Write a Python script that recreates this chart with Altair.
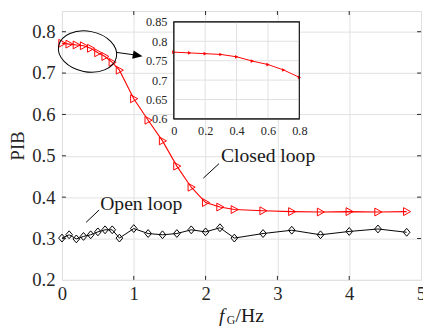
import altair as alt
import pandas as pd

# ---------------- data ----------------
freq = [0, 0.1, 0.2, 0.3, 0.4, 0.5, 0.6, 0.7, 0.8, 1.0, 1.2, 1.4, 1.6, 1.8,
        2.0, 2.2, 2.4, 2.8, 3.2, 3.6, 4.0, 4.4, 4.8]
closed_loop = [0.772, 0.770, 0.768, 0.766, 0.760, 0.749, 0.740, 0.726, 0.707,
               0.638, 0.586, 0.536, 0.475, 0.424, 0.387, 0.376, 0.370, 0.367,
               0.365, 0.364, 0.365, 0.364, 0.365]
open_loop = [0.301, 0.309, 0.299, 0.305, 0.309, 0.316, 0.321, 0.321, 0.301,
             0.324, 0.312, 0.309, 0.312, 0.321, 0.316, 0.326, 0.301, 0.312,
             0.320, 0.309, 0.317, 0.323, 0.315]
inset_freq = [0, 0.1, 0.2, 0.3, 0.4, 0.5, 0.6, 0.7, 0.8]
inset_closed = [0.772, 0.770, 0.768, 0.766, 0.760, 0.749, 0.740, 0.726, 0.707]

x_ticks = [0, 1, 2, 3, 4, 5]
y_ticks = [0.2, 0.3, 0.4, 0.5, 0.6, 0.7, 0.8]
inset_x_ticks = [0, 0.2, 0.4, 0.6, 0.8]
inset_y_ticks = [0.6, 0.65, 0.7, 0.75, 0.8, 0.85]
series_labels = ["Closed loop", "Open loop"]

# ---------------- style ----------------
FONT = "Liberation Serif"
RED = "#ff0000"
INK = "#262626"
GRID = "#e0e0e0"
X_DOM = [0, 5]
Y_DOM = [0.2, 0.85]
IX_DOM = [0, 0.8]
IY_DOM = [0.6, 0.85]

TRI = "M-0.8,-1L1,0L-0.8,1Z"
DIAMOND = "M0,-1L0.85,0L0,1L-0.85,0Z"
ELLIPSE = "M-1,0A1,0.69,0,1,1,1,0A1,0.69,0,1,1,-1,0Z"
HEAD = "M-1,-0.86L1,0L-1,0.86Z"

xs = alt.Scale(domain=X_DOM, nice=False, zero=False)
ys = alt.Scale(domain=Y_DOM, nice=False, zero=False)
ax_x = alt.Axis(orient="bottom", values=x_ticks, format="~g", title=None,
                grid=True, gridColor=GRID, gridWidth=1, ticks=False, domain=False,
                labelFont=FONT, labelFontSize=19, labelColor=INK, labelPadding=5,
                labelFlush=False, labelOverlap=False)
ax_y = alt.Axis(orient="left", values=y_ticks, format=".1f", title="PIB",
                titleFont=FONT, titleFontSize=19, titleFontWeight="normal",
                titleColor=INK, titlePadding=4,
                grid=True, gridColor=GRID, gridWidth=1, ticks=False, domain=False,
                labelFont=FONT, labelFontSize=19, labelColor=INK, labelPadding=7,
                labelOverlap=False)


def MX(f="x"):
    return alt.X(f"{f}:Q", scale=xs, axis=ax_x)


def MY(f="y"):
    return alt.Y(f"{f}:Q", scale=ys, axis=ax_y)


closed_df = pd.DataFrame({"x": freq, "y": closed_loop})
open_df = pd.DataFrame({"x": freq, "y": open_loop})

closed_line = alt.Chart(closed_df).mark_line(color=RED, strokeWidth=1.1).encode(x=MX(), y=MY())
closed_pts = alt.Chart(closed_df).mark_point(
    shape=TRI, size=64, filled=False, color=RED, strokeWidth=1, opacity=1
).encode(x=MX(), y=MY())
open_line = alt.Chart(open_df).mark_line(color="black", strokeWidth=1).encode(x=MX(), y=MY())
open_pts = alt.Chart(open_df).mark_point(
    shape=DIAMOND, size=64, filled=False, color="black", strokeWidth=1, opacity=1
).encode(x=MX(), y=MY())

# inward ticks on all four sides of the box
inner_x = x_ticks[1:-1]
inner_y = y_ticks[1:]
bottom_t = alt.Chart(pd.DataFrame({"x": inner_x, "y": [Y_DOM[0]] * len(inner_x), "y2": [Y_DOM[0]] * len(inner_x)})
                     ).mark_rule(color=INK, strokeWidth=1, y2Offset=-4).encode(x=MX(), y=MY(), y2="y2:Q")
top_t = alt.Chart(pd.DataFrame({"x": inner_x, "y": [Y_DOM[1]] * len(inner_x), "y2": [Y_DOM[1]] * len(inner_x)})
                  ).mark_rule(color=INK, strokeWidth=1, y2Offset=4).encode(x=MX(), y=MY(), y2="y2:Q")
left_t = alt.Chart(pd.DataFrame({"y": inner_y, "x": [X_DOM[0]] * len(inner_y), "x2": [X_DOM[0]] * len(inner_y)})
                   ).mark_rule(color=INK, strokeWidth=1, x2Offset=4).encode(x=MX(), x2="x2:Q", y=MY())
right_t = alt.Chart(pd.DataFrame({"y": inner_y, "x": [X_DOM[1]] * len(inner_y), "x2": [X_DOM[1]] * len(inner_y)})
                    ).mark_rule(color=INK, strokeWidth=1, x2Offset=-4).encode(x=MX(), x2="x2:Q", y=MY())

# annotations
ellipse = alt.Chart(pd.DataFrame({"x": [0.356], "y": [0.752]})).mark_point(
    shape=ELLIPSE, size=3600, filled=False, color="black", strokeWidth=1, opacity=1, angle=11
).encode(x=MX(), y=MY())
arrow_line = alt.Chart(pd.DataFrame({"x": [0.759], "y": [0.750], "x2": [1.05], "y2": [0.743]})
                       ).mark_rule(color="black", strokeWidth=1).encode(x=MX(), y=MY(), x2="x2:Q", y2="y2:Q")
arrow_head = alt.Chart(pd.DataFrame({"x": [1.055], "y": [0.7426]})).mark_point(
    shape=HEAD, size=100, filled=True, color="black", opacity=1, angle=10
).encode(x=MX(), y=MY())

leaders = alt.Chart(pd.DataFrame({
    "x": [1.969, 0.336], "y": [0.446, 0.339], "x2": [2.187, 0.518], "y2": [0.481, 0.369]
})).mark_rule(color="black", strokeWidth=1).encode(x=MX(), y=MY(), x2="x2:Q", y2="y2:Q")

labels = alt.Chart(pd.DataFrame({
    "x": [2.214, 0.532], "y": [0.486, 0.370], "label": series_labels
})).mark_text(font=FONT, fontSize=20, color="#1a1a1a", align="left", baseline="alphabetic").encode(
    x=MX(), y=MY(), text="label:N")

# x-axis title  f_G/Hz
title_pos = pd.DataFrame({"x": [2.5], "y": [Y_DOM[0]]})
t_f = alt.Chart(title_pos).mark_text(text="f", font=FONT, fontSize=20, fontStyle="italic",
                                     color="#1a1a1a", align="left", baseline="alphabetic",
                                     dx=-23, dy=43).encode(x=MX(), y=MY())
t_g = alt.Chart(title_pos).mark_text(text="G", font=FONT, fontSize=12, color="#1a1a1a",
                                     align="left", baseline="alphabetic",
                                     dx=-15, dy=45).encode(x=MX(), y=MY())
t_hz = alt.Chart(title_pos).mark_text(text="/Hz", font=FONT, fontSize=20, color="#1a1a1a",
                                      align="left", baseline="alphabetic",
                                      dx=-6, dy=43).encode(x=MX(), y=MY())

main = alt.layer(closed_line, closed_pts, open_line, open_pts,
                 bottom_t, top_t, left_t, right_t,
                 ellipse, arrow_line, arrow_head, leaders, labels,
                 t_f, t_g, t_hz)

# ---------------- inset ----------------
ixs = alt.Scale(domain=IX_DOM, range=[114, 242], nice=False, zero=False)
iys = alt.Scale(domain=IY_DOM, range=[110, 11], nice=False, zero=False)
iax_x = alt.Axis(orient="bottom", offset=-164, values=inset_x_ticks, format="~g", title=None,
                 grid=False, ticks=False, domain=False, labelFont=FONT, labelFontSize=12.5,
                 labelColor=INK, labelPadding=6, labelFlush=False, labelOverlap=False)
iax_y = alt.Axis(orient="left", offset=-114, values=inset_y_ticks, format="~g", title=None,
                 grid=False, ticks=False, domain=False, labelFont=FONT, labelFontSize=12.5,
                 labelColor=INK, labelPadding=7, labelOverlap=False)


def IX(f="ix"):
    return alt.X(f"{f}:Q", scale=ixs, axis=iax_x)


def IY(f="iy"):
    return alt.Y(f"{f}:Q", scale=iys, axis=iax_y)


inset_box = alt.Chart(pd.DataFrame({"ix": [IX_DOM[0]], "ix2": [IX_DOM[1]], "iy": [IY_DOM[0]], "iy2": [IY_DOM[1]]})
                      ).mark_rect(fill="white", stroke=INK, strokeWidth=1).encode(
    x=IX(), x2="ix2:Q", y=IY(), y2="iy2:Q")
gx = inset_x_ticks[1:-1]
gy = inset_y_ticks[1:-1]
inset_vgrid = alt.Chart(pd.DataFrame({"ix": gx, "iy": [IY_DOM[0]] * len(gx), "iy2": [IY_DOM[1]] * len(gx)})
                        ).mark_rule(color=GRID, strokeWidth=1).encode(x=IX(), y=IY(), y2="iy2:Q")
inset_hgrid = alt.Chart(pd.DataFrame({"iy": gy, "ix": [IX_DOM[0]] * len(gy), "ix2": [IX_DOM[1]] * len(gy)})
                        ).mark_rule(color=GRID, strokeWidth=1).encode(x=IX(), x2="ix2:Q", y=IY())
inset_frame = alt.Chart(pd.DataFrame({"ix": [IX_DOM[0]], "ix2": [IX_DOM[1]], "iy": [IY_DOM[0]], "iy2": [IY_DOM[1]]})
                        ).mark_rect(fill=None, stroke=INK, strokeWidth=1.2).encode(
    x=IX(), x2="ix2:Q", y=IY(), y2="iy2:Q")
inset_df = pd.DataFrame({"ix": inset_freq, "iy": inset_closed})
inset_line = alt.Chart(inset_df).mark_line(color=RED, strokeWidth=1).encode(x=IX(), y=IY())
inset_pts = alt.Chart(inset_df).mark_point(shape="triangle-right", size=14, filled=True,
                                           color=RED, opacity=1).encode(x=IX(), y=IY())

inset = alt.layer(inset_box, inset_vgrid, inset_hgrid, inset_line, inset_pts, inset_frame)

chart = alt.layer(main, inset).resolve_scale(
    x="independent", y="independent"
).properties(
    width=366, height=274,
    autosize=alt.AutoSizeParams(type="none"),
    padding={"left": 55, "top": 0, "right": 2, "bottom": 47},
).configure_view(stroke=INK, strokeWidth=1.2).configure(background="white")

chart.save("out.html", embed_options={"renderer": "svg", "actions": False})
